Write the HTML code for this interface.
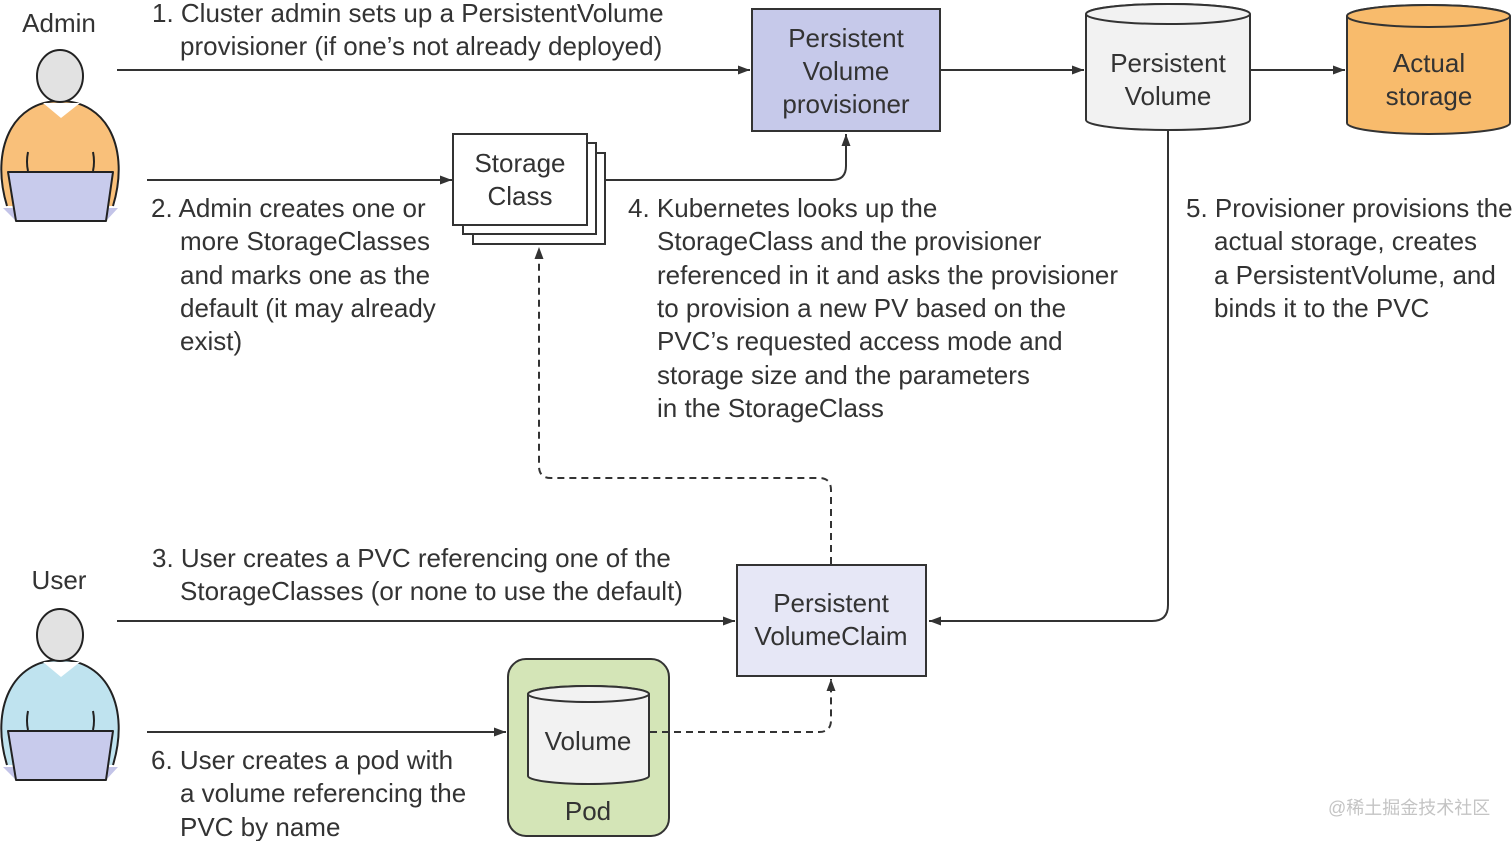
<!DOCTYPE html>
<html>
<head>
<meta charset="utf-8">
<style>
  html, body { margin:0; padding:0; background:#fff; }
  body { width:1512px; height:841px; overflow:hidden; }
  svg { display:block; }
  text { font-family:"Liberation Sans", Arial, sans-serif; font-size:26px; fill:#333; }
  .c { text-anchor:middle; }
  .wm { font-family:"Liberation Sans","Noto Sans CJK SC",sans-serif; font-size:18px; fill:#c4c4c4; }
</style>
</head>
<body>
<svg width="1512" height="841" viewBox="0 0 1512 841" xmlns="http://www.w3.org/2000/svg">
  <defs>
    <marker id="ah" markerWidth="13" markerHeight="10" refX="12" refY="5" orient="auto" markerUnits="userSpaceOnUse">
      <path d="M0,0.5 L12,5 L0,9.5 Z" fill="#333"/>
    </marker>
    <g id="person">
      <polygon points="3,208 118,208 106,221 16,221" fill="#c3c4e8"/>
      <path d="M7,206 C-10,150 12,101 60,101 C108,101 130,150 113,206" stroke="#222" stroke-width="2" fill="inherit"/>
      <polygon points="43,103 80,103 61,118" fill="#ffffff"/>
      <path d="M28,152 Q26,162 28,171" stroke="#222" stroke-width="2" fill="none"/>
      <path d="M93,152 Q95,162 93,171" stroke="#222" stroke-width="2" fill="none"/>
      <ellipse cx="60" cy="76" rx="23" ry="26" fill="#e2e2e2" stroke="#222" stroke-width="2"/>
      <polygon points="8,172 113,172 106,221 16,221" fill="#c8cbec" stroke="#222" stroke-width="2" stroke-linejoin="round"/>
    </g>
  </defs>

  <!-- Persons -->
  <text x="59" y="32" class="c">Admin</text>
  <g fill="#f9c07a"><use href="#person"/></g>
  <text x="59" y="589" class="c">User</text>
  <g fill="#bfe3ef" transform="translate(0,559)"><use href="#person"/></g>

  <!-- Step 1 text -->
  <text x="152" y="22">1. Cluster admin sets up a PersistentVolume</text>
  <text x="180" y="55">provisioner (if one’s not already deployed)</text>

  <!-- Arrow 1 -->
  <line x1="117" y1="70" x2="750" y2="70" stroke="#333" stroke-width="2" marker-end="url(#ah)"/>

  <!-- Provisioner box -->
  <rect x="752" y="9" width="188" height="122" fill="#c6c9ea" stroke="#333" stroke-width="2"/>
  <text x="846" y="47" class="c">Persistent</text>
  <text x="846" y="80" class="c">Volume</text>
  <text x="846" y="113" class="c">provisioner</text>

  <!-- prov -> PV -->
  <line x1="941" y1="70" x2="1084" y2="70" stroke="#333" stroke-width="2" marker-end="url(#ah)"/>

  <!-- PV cylinder -->
  <path d="M1086,14 L1086,120 A82,10 0 0 0 1250,120 L1250,14 A82,10 0 0 0 1086,14 Z" fill="#f2f2f2" stroke="#333" stroke-width="2"/>
  <ellipse cx="1168" cy="14" rx="82" ry="10" fill="#f2f2f2" stroke="#333" stroke-width="2"/>
  <text x="1168" y="72" class="c">Persistent</text>
  <text x="1168" y="105" class="c">Volume</text>

  <!-- PV -> Actual -->
  <line x1="1250" y1="70" x2="1345" y2="70" stroke="#333" stroke-width="2" marker-end="url(#ah)"/>

  <!-- Actual storage -->
  <path d="M1347,16 L1347,123 A81.5,11 0 0 0 1510,123 L1510,16 A81.5,11 0 0 0 1347,16 Z" fill="#f8bb6c" stroke="#333" stroke-width="2"/>
  <ellipse cx="1428.5" cy="16" rx="81.5" ry="11" fill="#f8bb6c" stroke="#333" stroke-width="2"/>
  <text x="1429" y="72" class="c">Actual</text>
  <text x="1429" y="105" class="c">storage</text>

  <!-- Arrow 2 -->
  <line x1="147" y1="180" x2="452" y2="180" stroke="#333" stroke-width="2" marker-end="url(#ah)"/>

  <!-- Storage class stack -->
  <rect x="473" y="153" width="132" height="91" fill="#fff" stroke="#333" stroke-width="2"/>
  <rect x="463" y="143" width="133" height="91" fill="#fff" stroke="#333" stroke-width="2"/>
  <rect x="453" y="134" width="134" height="91" fill="#fff" stroke="#333" stroke-width="2"/>
  <text x="520" y="172" class="c">Storage</text>
  <text x="520" y="205" class="c">Class</text>

  <!-- SC -> provisioner -->
  <path d="M606,180 L832,180 Q846,180 846,166 L846,134" fill="none" stroke="#333" stroke-width="2" marker-end="url(#ah)"/>

  <!-- Step 2 text -->
  <text x="151" y="217">2. Admin creates one or</text>
  <text x="180" y="250">more StorageClasses</text>
  <text x="180" y="284">and marks one as the</text>
  <text x="180" y="317">default (it may already</text>
  <text x="180" y="350">exist)</text>

  <!-- Step 4 text -->
  <text x="628" y="217">4. Kubernetes looks up the</text>
  <text x="657" y="250">StorageClass and the provisioner</text>
  <text x="657" y="284">referenced in it and asks the provisioner</text>
  <text x="657" y="317">to provision a new PV based on the</text>
  <text x="657" y="350">PVC’s requested access mode and</text>
  <text x="657" y="384">storage size and the parameters</text>
  <text x="657" y="417">in the StorageClass</text>

  <!-- Step 5 text -->
  <text x="1186" y="217">5. Provisioner provisions the</text>
  <text x="1214" y="250">actual storage, creates</text>
  <text x="1214" y="284">a PersistentVolume, and</text>
  <text x="1214" y="317">binds it to the PVC</text>

  <!-- PV -> PVC -->
  <path d="M1168,131 L1168,605 Q1168,621 1152,621 L929,621" fill="none" stroke="#333" stroke-width="2" marker-end="url(#ah)"/>

  <!-- Dashed PVC -> SC -->
  <path d="M831,564 L831,490 Q831,478 819,478 L551,478 Q539,478 539,466 L539,247" fill="none" stroke="#333" stroke-width="2" stroke-dasharray="7,5" marker-end="url(#ah)"/>

  <!-- Step 3 text -->
  <text x="152" y="567">3. User creates a PVC referencing one of the</text>
  <text x="180" y="600">StorageClasses (or none to use the default)</text>

  <!-- Arrow 3 -->
  <line x1="117" y1="621" x2="735" y2="621" stroke="#333" stroke-width="2" marker-end="url(#ah)"/>

  <!-- PVC box -->
  <rect x="737" y="565" width="189" height="111" fill="#e6e7f6" stroke="#333" stroke-width="2"/>
  <text x="831" y="612" class="c">Persistent</text>
  <text x="831" y="645" class="c">VolumeClaim</text>

  <!-- Arrow 6 -->
  <line x1="147" y1="732" x2="506" y2="732" stroke="#333" stroke-width="2" marker-end="url(#ah)"/>

  <!-- Step 6 text -->
  <text x="151" y="769">6. User creates a pod with</text>
  <text x="180" y="802">a volume referencing the</text>
  <text x="180" y="836">PVC by name</text>

  <!-- Pod -->
  <rect x="508" y="659" width="161" height="177" rx="18" ry="18" fill="#d4e5b7" stroke="#333" stroke-width="2"/>
  <path d="M528,694 L528,776 A60.5,8 0 0 0 649,776 L649,694 A60.5,8 0 0 0 528,694 Z" fill="#f2f2f2" stroke="#333" stroke-width="2"/>
  <ellipse cx="588.5" cy="694" rx="60.5" ry="8" fill="#f2f2f2" stroke="#333" stroke-width="2"/>
  <text x="588" y="750" class="c">Volume</text>
  <text x="588" y="820" class="c">Pod</text>

  <!-- Dashed Volume -> PVC -->
  <path d="M650,732 L819,732 Q831,732 831,720 L831,679" fill="none" stroke="#333" stroke-width="2" stroke-dasharray="7,5" marker-end="url(#ah)"/>

  <!-- Watermark -->
  <text x="1328" y="814" class="wm">@稀土掘金技术社区</text>
</svg>
</body>
</html>
